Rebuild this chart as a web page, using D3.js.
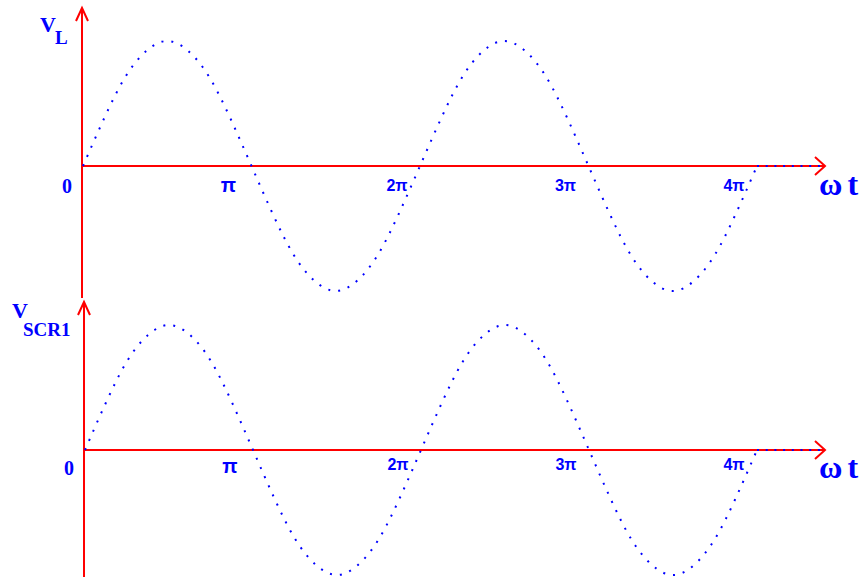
<!DOCTYPE html>
<html>
<head>
<meta charset="utf-8">
<script src="https://cdn.jsdelivr.net/npm/d3@7"></script>
<style>
  body { margin: 0; background: #fff; }
  svg { display: block; }
</style>
</head>
<body>
<svg id="chart" width="862" height="577"></svg>
<script>
// wave, one value every pi/8 from 0 to 4pi
var phase = d3.range(0, 33).map(function (i) { return i / 8; });  // in units of pi
var waveL = [0, 0.38, 0.71, 0.92, 1, 0.92, 0.71, 0.38,
             0, -0.38, -0.71, -0.92, -1, -0.92, -0.71, -0.38,
             0, 0.38, 0.71, 0.92, 1, 0.92, 0.71, 0.38,
             0, -0.38, -0.71, -0.92, -1, -0.92, -0.71, -0.38, 0];
var waveSCR1 = [0, 0.38, 0.71, 0.92, 1, 0.92, 0.71, 0.38,
                0, -0.38, -0.71, -0.92, -1, -0.92, -0.71, -0.38,
                0, 0.38, 0.71, 0.92, 1, 0.92, 0.71, 0.38,
                0, -0.38, -0.71, -0.92, -1, -0.92, -0.71, -0.38, 0];
var tickValues = [0, 1, 2, 3, 4];
var tickLabels = ["0", "π", "2π", "3π", "4π"];

var RED = "#ff0000", BLUE = "#0000ff";
var svg = d3.select("#chart");

// one panel per signal
var panels = [
  { sub: "L", data: waveL, x0: 82, zero: 166, peak: 41, yTop: 8, yBot: 298,
    subX: 55, vX: 40, vY: 32, subY: 44, omegaY: 195, tickY: [193, 192, 191] },
  { sub: "SCR1", data: waveSCR1, x0: 84, zero: 450, peak: 325, yTop: 302, yBot: 577,
    subX: 23, vX: 12, vY: 318, subY: 336, omegaY: 478, tickY: [475, 473, 470] }
];

panels.forEach(function (p) {
  var x = d3.scaleLinear().domain([0, 4]).range([p.x0 + 1, 757]);
  var y = d3.scaleLinear().domain([-1, 1]).range([2 * p.zero - p.peak, p.peak]);
  var g = svg.append("g");

  // horizontal axis with open arrow
  g.append("line").attr("x1", p.x0).attr("x2", 825)
    .attr("y1", y(0)).attr("y2", y(0))
    .attr("stroke", RED).attr("stroke-width", 2);
  g.append("path")
    .attr("d", "M815," + (y(0) - 9) + "L825," + y(0) + "L815," + (y(0) + 9))
    .attr("fill", "none").attr("stroke", RED).attr("stroke-width", 2);

  // vertical axis with open arrow
  g.append("line").attr("x1", p.x0).attr("x2", p.x0)
    .attr("y1", p.yTop).attr("y2", p.yBot)
    .attr("stroke", RED).attr("stroke-width", 2);
  g.append("path")
    .attr("d", "M" + (p.x0 - 6) + "," + (p.yTop + 13) + "L" + p.x0 + "," + p.yTop +
               "L" + (p.x0 + 6) + "," + (p.yTop + 13))
    .attr("fill", "none").attr("stroke", RED).attr("stroke-width", 2);

  // dotted waveform
  var line = d3.line()
    .x(function (d, i) { return x(phase[i]); })
    .y(function (d) { return y(d); })
    .curve(d3.curveNatural);
  g.append("path").datum(p.data)
    .attr("d", line)
    .attr("fill", "none").attr("stroke", BLUE)
    .attr("stroke-width", 2).attr("stroke-dasharray", "2 8");

  // dotted tail along the axis after 4pi
  g.append("line").attr("x1", x(4)).attr("x2", 820)
    .attr("y1", y(0)).attr("y2", y(0))
    .attr("stroke", BLUE).attr("stroke-width", 2).attr("stroke-dasharray", "2 6.7");

  // tick labels
  g.selectAll("text.tick").data(tickValues).enter().append("text")
    .attr("class", "tick")
    .attr("x", function (d) { return d === 0 ? p.x0 - 15 : x(d) - 23; })
    .attr("y", function (d) { return p.tickY[Math.min(d, 2)]; })
    .attr("text-anchor", "middle")
    .attr("fill", BLUE).attr("font-weight", "bold")
    .attr("font-family", function (d) { return d === 0 ? "Liberation Serif" : "Liberation Sans"; })
    .attr("font-size", function (d) { return d < 2 ? 20 : 16; })
    .text(function (d, i) { return tickLabels[i]; });

  // axis titles
  var wt = g.append("text").attr("x", 819).attr("y", p.omegaY)
    .attr("fill", BLUE).attr("font-family", "Liberation Serif")
    .attr("font-weight", "bold").attr("font-size", 32);
  wt.append("tspan").text("ω");
  wt.append("tspan").attr("dx", 5).text("t");
  g.append("text").attr("x", p.vX).attr("y", p.vY)
    .attr("fill", BLUE).attr("font-family", "Liberation Serif")
    .attr("font-weight", "bold").attr("font-size", 22)
    .text("V");
  g.append("text").attr("x", p.subX).attr("y", p.subY)
    .attr("fill", BLUE).attr("font-family", "Liberation Serif")
    .attr("font-weight", "bold").attr("font-size", 19)
    .text(p.sub);
});
</script>
</body>
</html>
